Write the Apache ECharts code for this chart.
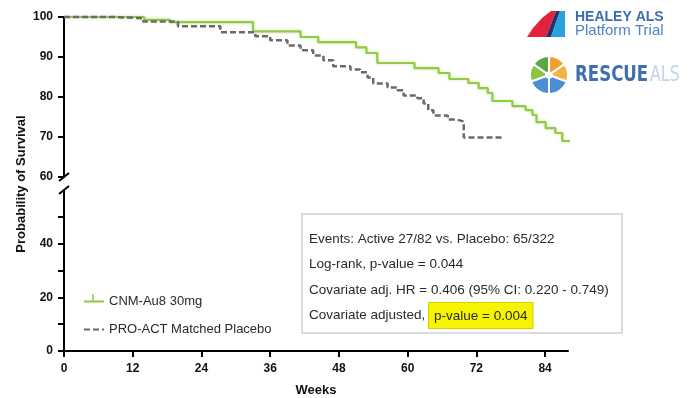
<!DOCTYPE html>
<html>
<head>
<meta charset="utf-8">
<script src="https://cdn.jsdelivr.net/npm/echarts@6/dist/echarts.min.js"></script>
<style>html,body{margin:0;padding:0;background:#fff}#c{width:694px;height:398px}</style>
</head>
<body>
<div id="c"></div>
<script>
// Kaplan-Meier step data
const cnmWeeks = [0, 14, 18.5, 33, 41.3, 44.4, 51, 52.8, 54.7, 61.2, 65.4, 67.3, 70.6, 72.4, 74, 74.8, 78.3, 80.6, 81.8, 82.5, 84.1, 85.8, 87, 88.5];
const cnmSurv  = [100, 99.3, 98.7, 96.4, 95.0, 93.7, 92.4, 91.0, 88.5, 87.2, 86.0, 84.5, 83.5, 82.2, 81.0, 79.0, 77.7, 76.7, 75.5, 73.7, 72.2, 71.0, 69.0, 69.0];
const pboWeeks = [0, 8.6, 13.8, 19.9, 27.3, 33.4, 36, 39, 41.3, 43.5, 45.3, 47, 50, 51.7, 53, 54, 56.5, 58.2, 59.3, 61.7, 62.8, 63.6, 64.5, 67, 68.4, 69.8, 76.6];
const pboSurv  = [100, 99.7, 98.9, 97.7, 96.2, 95.2, 94.2, 92.9, 91.7, 90.4, 89.2, 87.7, 86.9, 86.2, 84.9, 83.4, 82.4, 81.7, 80.4, 79.7, 78.4, 76.7, 75.4, 74.4, 73.9, 69.9, 69.9];
const xTicks = [0, 12, 24, 36, 48, 60, 72, 84];
const yTopTicks = [60, 70, 80, 90, 100];
const yBottomLabels = [0, 20, 40];
const yBottomTicks = [0, 10, 20, 30, 40, 50];
const seriesNames = ['CNM-Au8 30mg', 'PRO-ACT Matched Placebo'];
const boxLines = [
  'Events: Active 27/82 vs. Placebo: 65/322',
  'Log-rank, p-value = 0.044',
  'Covariate adj. HR = 0.406 (95% CI: 0.220 - 0.749)'
];
const boxLastPlain = 'Covariate adjusted, ';
const boxLastHighlight = 'p-value = 0.004';

const chart = echarts.init(document.getElementById('c'), null, {renderer: 'canvas'});
const FONT = '"Liberation Sans", Arial, sans-serif';
const axisLine = {show: true, lineStyle: {color: '#000', width: 2}};
const tickStyle = {show: true, inside: false, length: 6, lineStyle: {color: '#000', width: 2}};
const labelStyle = {color: '#111', fontSize: 12, fontWeight: 'bold', fontFamily: FONT};
const GREEN = '#92c945';
const GRAY = '#6a6a6a';

const option = {
  backgroundColor: '#fff',
  animation: false,
  grid: [
    {left: 64, right: 126, top: 17, height: 160},
    {left: 64, right: 126, top: 190, height: 163}
  ],
  xAxis: [
    {gridIndex: 0, type: 'value', min: 0, max: 88, show: false},
    {gridIndex: 1, type: 'value', min: 0, max: 88,
      axisLine: axisLine, splitLine: {show: false},
      axisTick: Object.assign({customValues: xTicks}, tickStyle),
      axisLabel: Object.assign({customValues: xTicks, margin: 12}, labelStyle),
      name: 'Weeks', nameLocation: 'middle', nameGap: 33,
      nameTextStyle: {color: '#111', fontSize: 13, fontWeight: 'bold', fontFamily: FONT}
    }
  ],
  yAxis: [
    {gridIndex: 0, type: 'value', min: 60, max: 100, interval: 10,
      axisLine: axisLine, splitLine: {show: false},
      axisTick: Object.assign({customValues: yTopTicks}, tickStyle),
      axisLabel: Object.assign({customValues: yTopTicks, margin: 11}, labelStyle)
    },
    {gridIndex: 1, type: 'value', min: 0, max: 60, interval: 10,
      axisLine: axisLine, splitLine: {show: false},
      axisTick: Object.assign({customValues: yBottomTicks}, tickStyle),
      axisLabel: Object.assign({customValues: yBottomLabels, margin: 11}, labelStyle)
    }
  ],
  legend: {
    data: seriesNames, orient: 'vertical', left: 78, top: 290,
    itemWidth: 20, itemHeight: 14, itemGap: 15,
    itemStyle: {opacity: 0},
    textStyle: {color: '#2a2a2a', fontSize: 13, fontFamily: FONT}
  },
  series: [
    {name: seriesNames[0], type: 'line', xAxisIndex: 0, yAxisIndex: 0, step: 'end',
      symbol: 'none', clip: false,
      lineStyle: {color: GREEN, width: 2.2, shadowColor: 'rgba(146,201,69,0.45)', shadowBlur: 3},
      itemStyle: {color: GREEN},
      data: cnmWeeks.map((w, i) => [w, cnmSurv[i]])
    },
    {name: seriesNames[1], type: 'line', xAxisIndex: 0, yAxisIndex: 0, step: 'end',
      symbol: 'none', clip: false,
      lineStyle: {color: GRAY, width: 2.5, type: [6, 3]},
      itemStyle: {color: GRAY},
      data: pboWeeks.map((w, i) => [w, pboSurv[i]])
    },
    {name: 'dummy', type: 'line', xAxisIndex: 1, yAxisIndex: 1, data: [], symbol: 'none'}
  ]
};
chart.setOption(option);

// decorations: axis break marks, y-axis name, annotation box, logos
const pTop = chart.convertToPixel({gridIndex: 0}, [0, 60]);
const pBot = chart.convertToPixel({gridIndex: 1}, [0, 60]);
const boxTextStyle = {fontSize: 13.5, fontFamily: FONT, fill: '#2a2a2a'};
const graphics = [
  {type: 'line', shape: {x1: pTop[0] - 5, y1: pTop[1] + 4, x2: pTop[0] + 5, y2: pTop[1] - 4}, style: {stroke: '#000', lineWidth: 2}},
  {type: 'line', shape: {x1: pBot[0] - 5, y1: pBot[1] + 4, x2: pBot[0] + 5, y2: pBot[1] - 4}, style: {stroke: '#000', lineWidth: 2}},
  {type: 'line', shape: {x1: 93, y1: 294, x2: 93, y2: 301}, style: {stroke: GREEN, lineWidth: 1.5}},
  {type: 'text', x: 21, y: 184, rotation: Math.PI / 2,
    style: {text: 'Probability of Survival', fontSize: 13, fontWeight: 'bold', fontFamily: FONT, fill: '#111', align: 'center', verticalAlign: 'middle'}},
  {type: 'rect', shape: {x: 302, y: 214, width: 320, height: 119},
    style: {fill: '#fff', stroke: '#cfcfcf', lineWidth: 1.5}}
];
boxLines.forEach((t, i) => {
  graphics.push({type: 'text', x: 309, y: 239 + i * 25.5,
    style: Object.assign({text: t, verticalAlign: 'middle'}, boxTextStyle)});
});
graphics.push({type: 'text', x: 309, y: 315.5,
  style: Object.assign({
    text: boxLastPlain + '{hl|' + boxLastHighlight + '}', verticalAlign: 'middle',
    rich: {hl: {backgroundColor: '#f7f400', borderColor: '#d8cf00', borderWidth: 1,
      padding: [6, 5, 5, 5], fontSize: 13.5, fontFamily: FONT, color: '#2a2a2a'}}
  }, boxTextStyle)});

// HEALEY logo
graphics.push(
  {type: 'polygon', shape: {points: [[527, 37], [533, 28], [542, 18], [551, 11], [556, 11], [546, 37]]}, style: {fill: '#e4223c'}},
  {type: 'polygon', shape: {points: [[556, 11], [560, 11], [551, 37], [546, 37]]}, style: {fill: '#2c2e6f'}},
  {type: 'polygon', shape: {points: [[560, 11], [565, 11], [565, 37], [551, 37]]}, style: {fill: '#27a3dc'}},
  {type: 'text', x: 575, y: 17, style: {text: 'HEALEY ALS', fontSize: 14, fontWeight: 'bold', fontFamily: FONT, fill: '#3b6eae', verticalAlign: 'middle'}},
  {type: 'text', x: 575, y: 31, style: {text: 'Platform Trial', fontSize: 15, fontFamily: FONT, fill: '#4f82c0', verticalAlign: 'middle'}}
);
// RESCUE ALS logo
const cx = 549, cy = 75, r = 19;
const segs = [
  [20, 90, '#4a8fd6'], [90, 160, '#4a8fd6'], [160, 215, '#8cc43f'],
  [215, 270, '#5aa845'], [270, 325, '#f0a030'], [325, 380, '#f5b440']
];
segs.forEach(s => {
  graphics.push({type: 'sector', shape: {cx: cx, cy: cy, r: r, r0: 3, startAngle: s[0] * Math.PI / 180, endAngle: s[1] * Math.PI / 180},
    style: {fill: s[2], stroke: '#fff', lineWidth: 2}});
});
graphics.push(
  {type: 'text', x: 575, y: 75, scaleX: 0.84, style: {text: 'RESCUE', fontSize: 22, fontWeight: 'bold', fontFamily: '"DejaVu Sans Condensed", "DejaVu Sans", sans-serif', fill: '#3f70ad', verticalAlign: 'middle'}},
  {type: 'text', x: 650, y: 75, scaleX: 0.8, style: {text: 'ALS', fontSize: 22, fontFamily: '"DejaVu Sans Condensed", "DejaVu Sans", sans-serif', fill: '#c2d4ea', verticalAlign: 'middle'}}
);
chart.setOption({graphic: graphics});
</script>
</body>
</html>
